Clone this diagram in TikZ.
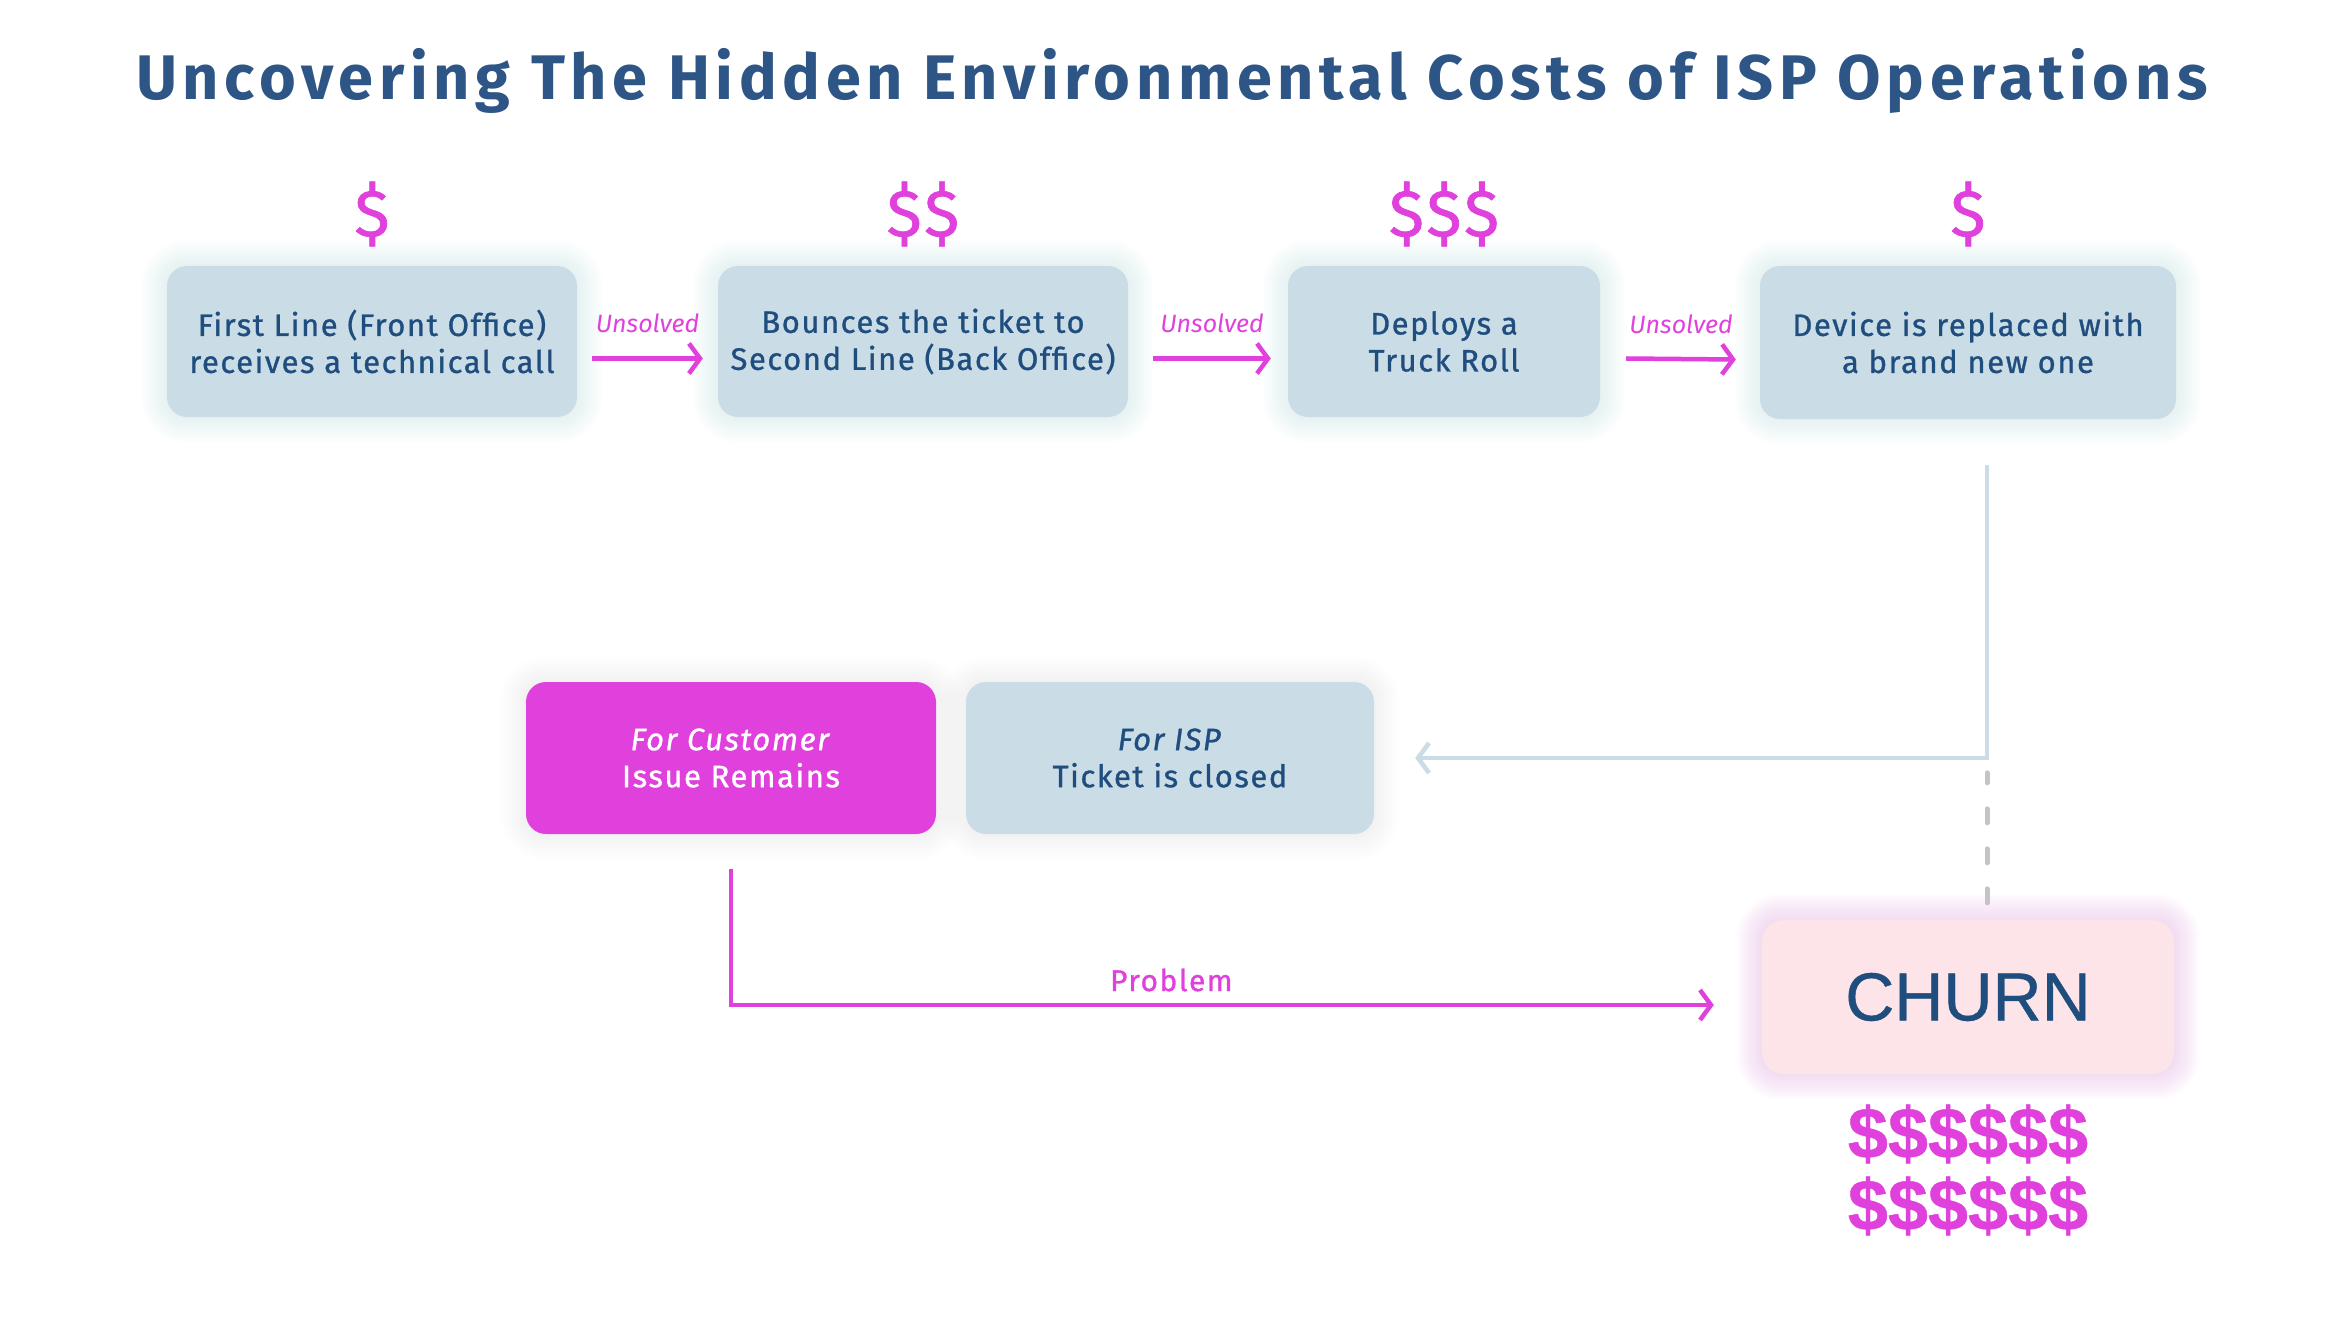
\documentclass[tikz,border=0pt]{standalone}
\usepackage{fontspec}
\setmainfont{Fira Sans}
\newfontfamily\titlefont{Fira Sans}[LetterSpace=9]
\newfontfamily\boxfont{Fira Sans}[LetterSpace=5, FakeBold=1]
\newfontfamily\churnfont{Liberation Sans}[FakeBold=0.6]
\usetikzlibrary{positioning, arrows.meta, calc, backgrounds}

\definecolor{boxfill}{HTML}{CADCE6}
\definecolor{textblue}{HTML}{1F4E7E}
\definecolor{titleblue}{HTML}{2D5586}
\definecolor{magentapk}{HTML}{E040DB}
\definecolor{churnfill}{HTML}{FCE4E8}
\definecolor{dashgrey}{HTML}{C4C4C4}
\definecolor{glowblue}{HTML}{6F98B0}

% soft glow behind a box
\newcommand{\glowbox}[3]{%
  \foreach \d [evaluate=\d as \r using 20+\d] in {2,4,...,26}{
    \fill[#2, opacity=#3, rounded corners=\r pt]
      ($(#1.south west)+(-\d,\d)$) rectangle ($(#1.north east)+(\d,-\d)$);
  }}

\begin{document}
\begin{tikzpicture}[x=1pt, y=-1pt,
    stepbox/.style={rectangle, rounded corners=20pt, fill=boxfill, text=textblue, align=center,
                    minimum height=151pt, font=\boxfont\fontsize{31}{37}\selectfont},
    custbox/.style={stepbox, fill=magentapk, text=white},
    churnbox/.style={rectangle, rounded corners=22pt, fill=churnfill, text=textblue,
                     minimum width=412pt, minimum height=154pt, font=\churnfont\fontsize{68}{70}\selectfont},
    cost/.style={text=magentapk, font=\boxfont\fontsize{66}{70}\selectfont},
    bigcost/.style={text=magentapk, align=center, font=\churnfont\bfseries\fontsize{72}{73}\selectfont},
    flow/.style={magentapk, line width=4.5pt, -{Straight Barb[length=11pt, width=30pt]}},
    flowlabel/.style={text=magentapk, font=\itshape\fontsize{25}{27}\selectfont},
    back/.style={boxfill, line width=4.5pt, -{Straight Barb[length=11pt, width=30pt]}}
  ]
  \useasboundingbox (0,0) rectangle (2345,1321);

  % Titel
  \node[text=titleblue, font=\titlefont\bfseries\fontsize{63}{70}\selectfont] (title) at (1172,81)
    {Uncovering The Hidden Environmental Costs of ISP Operations};

  % Knoten
  \node[stepbox, minimum width=410pt] (first) at (372,341.5) {First Line (Front Office)\\receives a technical call};
  \node[stepbox, minimum width=410pt] (second) at (923,341.5) {Bounces the ticket to\\Second Line (Back Office)};
  \node[stepbox, minimum width=312pt] (truck) at (1444,341.5) {Deploys a\\Truck Roll};
  \node[stepbox, minimum width=416pt, minimum height=153pt] (device) at (1968,342.5) {Device is replaced with\\a brand new one};

  \node[custbox, minimum width=410pt, minimum height=152pt] (cust) at (731,758) {\textit{For Customer}\\Issue Remains};
  \node[stepbox, minimum width=408pt, minimum height=152pt] (isp) at (1170,758) {\textit{For ISP}\\Ticket is closed};

  \node[churnbox] (churn) at (1968,997) {CHURN};

  % Kosten
  \node[cost] (c1) at (372,214) {\$};
  \node[cost] (c2) at (923,214) {\$\$};
  \node[cost] (c3) at (1444,214) {\$\$\$};
  \node[cost] (c4) at (1968,214) {\$};
  \node[bigcost] (c5) at (1968,1170) {\$\$\$\$\$\$\\[-1pt]\$\$\$\$\$\$};

  % Kanten zwischen Knoten
  \draw[flow] ([xshift=15pt, yshift=-17pt]first.east) -- ([xshift=-15pt, yshift=-17pt]second.west)
    node[midway, above=20pt, flowlabel] {Unsolved};
  \draw[flow] ([xshift=25pt, yshift=-17pt]second.east) -- ([xshift=-17pt, yshift=-17pt]truck.west)
    node[midway, above=20pt, flowlabel] {Unsolved};
  \draw[flow] ([xshift=26pt, yshift=-17pt]truck.east) -- ([xshift=-24pt, yshift=-17pt]device.west)
    node[midway, above=20pt, flowlabel] {Unsolved};

  \draw[back] ([xshift=19pt, yshift=-46pt]device.south) |- ([xshift=41pt]isp.east);
  \draw[dashgrey, line width=5pt, line cap=round, dash pattern=on 14pt off 26pt]
    ([xshift=19pt, yshift=17pt]churn.north) -- ++(0,-130);

  \draw[flow] ([yshift=-35pt]cust.south) |- ([xshift=-48pt, yshift=-8pt]churn.west)
    node[pos=0.724, above=8pt, text=magentapk, font=\boxfont\fontsize{30}{32}\selectfont] {Problem};

  % Schatten
  \begin{scope}[on background layer]
    \fill[white] (0,0) rectangle (2345,1321);
    \glowbox{first}{glowblue}{0.008}
    \glowbox{second}{glowblue}{0.008}
    \glowbox{truck}{glowblue}{0.008}
    \glowbox{device}{glowblue}{0.008}
    \glowbox{cust}{glowblue}{0.005}
    \glowbox{isp}{glowblue}{0.005}
    \glowbox{churn}{magentapk}{0.012}
  \end{scope}
\end{tikzpicture}
\end{document}
